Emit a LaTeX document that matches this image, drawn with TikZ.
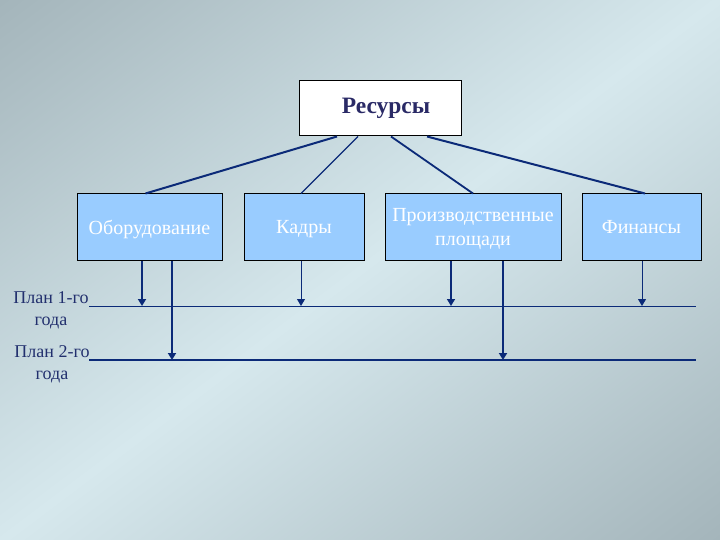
\documentclass[tikz,border=0pt]{standalone}
\usepackage{fontspec}
\setmainfont{Liberation Serif}
\usetikzlibrary{arrows.meta}
\definecolor{bgdark}{HTML}{A4B5BB}
\definecolor{bglight}{HTML}{D6E8ED}
\definecolor{boxblue}{HTML}{99CCFF}
\definecolor{linkblue}{HTML}{0B2A78}
\definecolor{navy}{HTML}{2A2A66}
\definecolor{plannavy}{HTML}{22306E}
\begin{document}
\begin{tikzpicture}[x=1pt, y=-1pt,
    topbox/.style = {draw, fill=white, line width=1pt, minimum width=162pt, minimum height=55pt, font=\fontsize{23.5}{26}\selectfont\bfseries, text=navy},
    resbox/.style = {draw, fill=boxblue, line width=1pt, minimum height=66pt, inner sep=2pt, text depth=0pt, align=center, font=\fontsize{20}{24}\selectfont, text=white},
    plan/.style = {align=center, font=\fontsize{18}{22}\selectfont, text=plannavy},
    link/.style = {draw=linkblue, line width=2pt},
    arr/.style = {draw=linkblue, -{Triangle[length=7pt,width=8pt]}}]
    \useasboundingbox (0,0) rectangle (720,540);
    \begin{scope}
        \clip (0,0) rectangle (720,540);
        \shade[top color=bgdark, bottom color=bgdark, middle color=bglight, shading angle=37] (-72,-162) rectangle (792,702);
    \end{scope}
    % top and resource boxes
    \node[topbox] (res) at (380,108.5) {\hspace*{12pt}Ресурсы};
    \node[resbox, minimum width=145pt] (equip) at (149.5,227) {Оборудование};
    \node[resbox, minimum width=120pt] (staff) at (304,227) {Кадры};
    \node[resbox, minimum width=176pt] (area) at (473,227) {Производственные\\площади};
    \node[resbox, minimum width=119pt] (money) at (641.5,227) {Финансы};
    % plan lines
    \node[plan] (plan1) at (51,310) {План 1-го\\года};
    \node[plan] (plan2) at (52,364) {План 2-го\\года};
    \coordinate (p1a) at (89,306);
    \coordinate (p1b) at (696,306);
    \coordinate (p2a) at (89,360);
    \coordinate (p2b) at (696,360);
    \draw[linkblue, line width=1pt] (p1a) -- (p1b);
    \draw[linkblue, line width=2.5pt] (p2a) -- (p2b);
    % links
    \draw[link] ([xshift=-43pt]res.south) -- ([xshift=-4pt]equip.north);
    \draw[link, line width=1.3pt] ([xshift=-22pt]res.south) -- ([xshift=-3pt]staff.north);
    \draw[link, line width=1.8pt] ([xshift=11pt]res.south) -- (area.north);
    \draw[link] ([xshift=47pt]res.south) -- ([xshift=3.5pt]money.north);
    % arrows
    \draw[arr, line width=2pt] ([xshift=-7.5pt]equip.south) -- ([xshift=-7.5pt]equip.south |- p1a);
    \draw[arr, line width=2pt] ([xshift=22.5pt]equip.south) -- ([xshift=22.5pt]equip.south |- p2a);
    \draw[arr, line width=1pt] ([xshift=-3pt]staff.south) -- ([xshift=-3pt]staff.south |- p1a);
    \draw[arr, line width=1.5pt] ([xshift=-22pt]area.south) -- ([xshift=-22pt]area.south |- p1a);
    \draw[arr, line width=2pt] ([xshift=30pt]area.south) -- ([xshift=30pt]area.south |- p2a);
    \draw[arr, line width=1pt] ([xshift=0.5pt]money.south) -- ([xshift=0.5pt]money.south |- p1a);
\end{tikzpicture}
\end{document}
